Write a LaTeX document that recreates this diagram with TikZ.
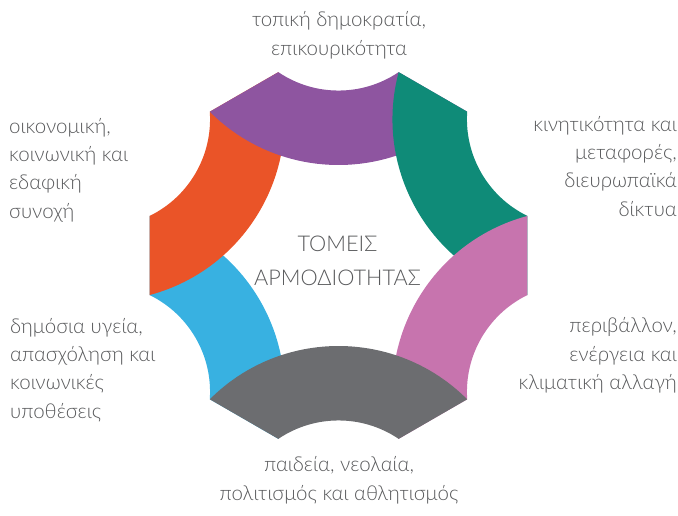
\documentclass[tikz,border=0pt]{standalone}
\usepackage{fontspec}
\setmainfont{Lato}[UprightFont={* Light}]
\usetikzlibrary{positioning}
\definecolor{sectgray}{RGB}{108, 109, 112}
\definecolor{sectblue}{RGB}{56, 177, 225}
\definecolor{sectorange}{RGB}{234, 84, 40}
\definecolor{sectpurple}{RGB}{142, 85, 160}
\definecolor{sectteal}{RGB}{15, 139, 120}
\definecolor{sectpink}{RGB}{199, 116, 174}
\definecolor{textgray}{RGB}{88, 89, 91}

\begin{document}
\begin{tikzpicture}[x=1pt, y=1pt,
    area/.style={font=\fontsize{20.5}{28.3}\selectfont, text=textgray, inner sep=0pt},
    title/.style={font=\fontsize{21.7}{34}\selectfont, text=textgray, inner sep=0pt, align=center}]
                    \useasboundingbox (-338.5,-259.5) rectangle (339.5,255.5);
                    % six ring pieces, the lowest first
                    \foreach \rot/\col in {-60/sectblue, -120/sectorange, 180/sectpurple, 120/sectteal, 60/sectpink, 0/sectgray}
                        \fill[\col, rotate=\rot] (-128.69,-143.81) -- (-60.17,-183.36) arc[start angle=124.02, end angle=55.98, radius=107.55] -- (128.69,-143.81) arc[start angle=45, end angle=135, radius=182] -- cycle;
                    \node[title, anchor=base] (centre) at (-1,-30.2) {ΤΟΜΕΙΣ\\ΑΡΜΟΔΙΟΤΗΤΑΣ};
                    \node[area, anchor=base, align=center] (democracy) at (0.5,200.5) {τοπική δημοκρατία,\\επικουρικότητα};
                    \node[area, anchor=base west, align=left] (cohesion) at (-329.5,37.5) {οικονομική,\\κοινωνική και\\εδαφική\\συνοχή};
                    \node[area, anchor=base east, align=right] (mobility) at (338.5,39.5) {κινητικότητα και\\μεταφορές,\\διευρωπαϊκά\\δίκτυα};
                    \node[area, anchor=base west, align=left] (health) at (-328.5,-162.5) {δημόσια υγεία,\\απασχόληση και\\κοινωνικές\\υποθέσεις};
                    \node[area, anchor=base east, align=right] (environment) at (338.5,-134) {περιβάλλον,\\ενέργεια και\\κλιματική αλλαγή};
                    \node[area, anchor=base, align=center] (education) at (0.5,-244.5) {παιδεία, νεολαία,\\πολιτισμός και αθλητισμός};
                \end{tikzpicture}
\end{document}
